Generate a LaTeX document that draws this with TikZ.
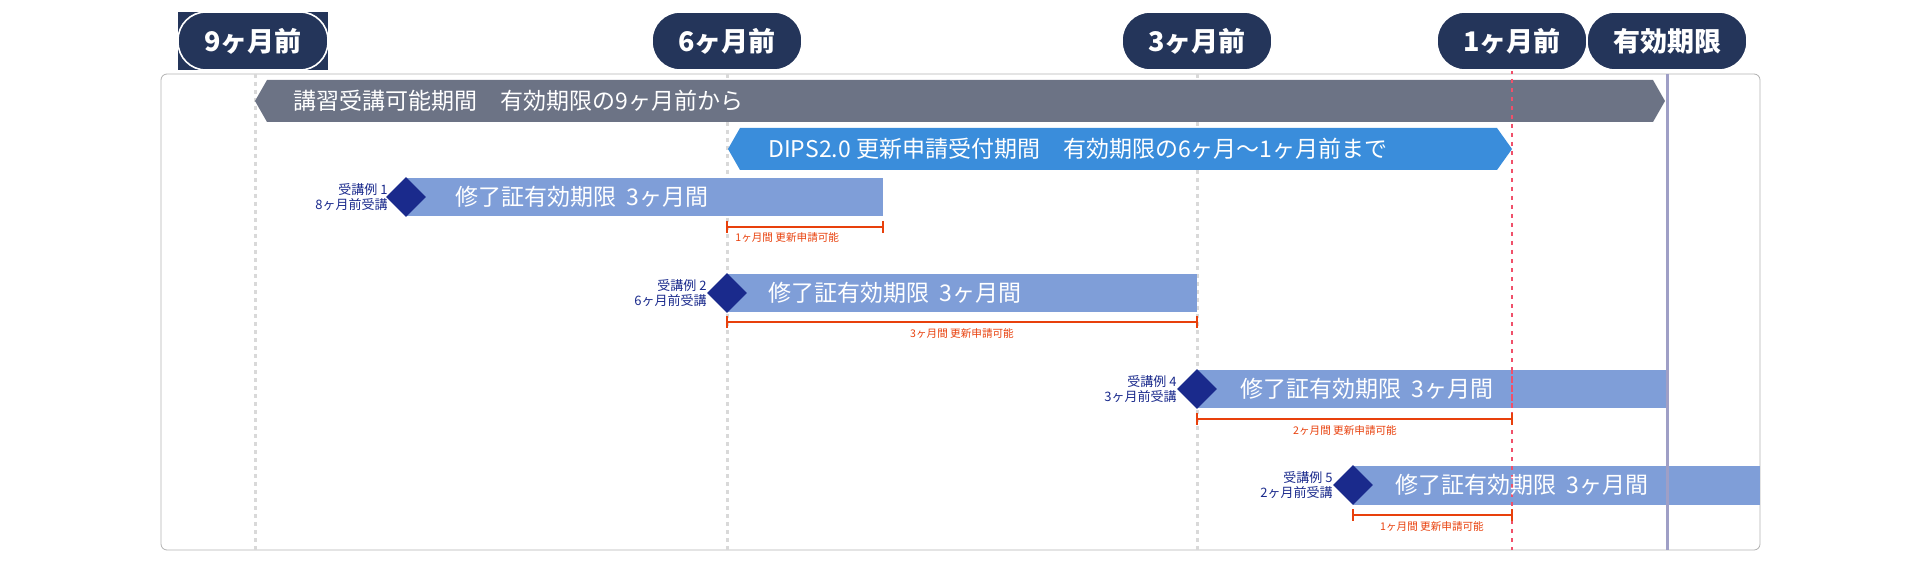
\documentclass[tikz,border=0pt]{standalone}
\usepackage{fontspec}
\setmainfont{Noto Sans CJK JP}
\usetikzlibrary{shapes.geometric}
\definecolor{pill}{HTML}{24355A}
\definecolor{gbar}{HTML}{6C7385}
\definecolor{bbar}{HTML}{3A8DDB}
\definecolor{lbar}{HTML}{7F9ED8}
\definecolor{dia}{HTML}{1A2A8C}
\definecolor{rd}{HTML}{E8400C}
\definecolor{rdot}{HTML}{F0506A}
\begin{document}
\begin{tikzpicture}[x=0.5pt,y=-0.5pt,
 pillst/.style={fill=pill,rounded corners=14pt,text=white,font=\bfseries\fontsize{13.5}{14}\selectfont},
 bartxt/.style={text=white,font=\fontsize{11.5}{12}\selectfont,anchor=west,inner sep=0},
 lbl/.style={text=dia,font=\fontsize{6.5}{7.5}\selectfont,align=right,anchor=east,inner sep=0},
 rlbl/.style={text=rd,font=\fontsize{5.3}{6}\selectfont,inner sep=0},
 brk/.style={draw=rd,line width=1.3pt},
 vgrid/.style={draw=gray!30,line width=1.5pt,dash pattern=on 2pt off 2pt}]
\useasboundingbox (0,0) rectangle (1920,561);
% frame
\draw[gray!60,rounded corners=3pt] (161,74) rectangle (1760,550);
% vertical lines
\foreach \x in {255,727,1197} \draw[vgrid] (\x,74) -- (\x,550);
% gray bar
\fill[gbar] (255,101) -- (267,80) -- (1653,80) -- (1665,101) -- (1653,122) -- (267,122) -- cycle;
\node[bartxt] (g) at (293,101) {講習受講可能期間　有効期限の9ヶ月前から};
% blue bar
\fill[bbar] (728,149) -- (740,128) -- (1497,128) -- (1512,149) -- (1497,170) -- (740,170) -- cycle;
\node[bartxt] (b) at (768,149) {DIPS2.0 更新申請受付期間　有効期限の6ヶ月〜1ヶ月前まで};
% expiry line and 1m dotted
\draw[color=rdot,line width=1.3pt,dash pattern=on 2pt off 2.5pt] (1512,70) -- (1512,550);
% example bars
\fill[lbar] (406,178) rectangle (883,216);
\fill[lbar] (727,274) rectangle (1197,312);
\fill[lbar] (1197,370) rectangle (1667,408);
\fill[lbar] (1353,466) rectangle (1760,505);
\draw[color=rdot,line width=1.3pt,dash pattern=on 2pt off 2.5pt] (1512,370) -- (1512,408) (1512,466) -- (1512,505);
\draw[color=rdot,line width=1.3pt,dash pattern=on 2pt off 2.5pt] (1512,70) -- (1512,550);
\draw[color=gray!75!blue!60,line width=1.5pt] (1667,74) -- (1667,550);
\node[bartxt] (t1) at (455,197) {修了証有効期限\ \ 3ヶ月間};
\node[bartxt] (t2) at (768,293) {修了証有効期限\ \ 3ヶ月間};
\node[bartxt] (t4) at (1240,389) {修了証有効期限\ \ 3ヶ月間};
\node[bartxt] (t5) at (1395,485) {修了証有効期限\ \ 3ヶ月間};
% diamonds
\foreach \n/\x/\y in {d1/406/197,d2/727/293,d4/1197/389,d5/1353/485}
  \node[diamond,fill=dia,minimum width=20pt,minimum height=20pt,inner sep=0] (\n) at (\x,\y) {};
\node[lbl] (l1) at (388,197) {受講例 1\\8ヶ月前受講};
\node[lbl] (l2) at (707,293) {受講例 2\\6ヶ月前受講};
\node[lbl] (l4) at (1177,389) {受講例 4\\3ヶ月前受講};
\node[lbl] (l5) at (1333,485) {受講例 5\\2ヶ月前受講};
% brackets
\draw[brk] (727,221) -- (727,233) (727,227) -- (883,227) (883,221) -- (883,233);
\node[rlbl,anchor=west] (r1) at (735,237) {1ヶ月間 更新申請可能};
\draw[brk] (727,316) -- (727,328) (727,322) -- (1197,322) (1197,316) -- (1197,328);
\node[rlbl] (r2) at (962,333) {3ヶ月間 更新申請可能};
\draw[brk] (1197,413) -- (1197,425) (1197,419) -- (1512,419) (1512,413) -- (1512,425);
\node[rlbl] (r4) at (1345,430) {2ヶ月間 更新申請可能};
\draw[brk] (1353,509) -- (1353,521) (1353,515) -- (1512,515) (1512,509) -- (1512,521);
\node[rlbl] (r5) at (1432,526) {1ヶ月間 更新申請可能};
% pills
\fill[pill] (178,12) rectangle (328,70);
\foreach \n/\x/\w/\t in {p9/253/150/9ヶ月前,p6/727/150/6ヶ月前,p3/1197/150/3ヶ月前,p1/1512/150/1ヶ月前,pe/1667/160/有効期限}
  \node[pillst,minimum width=\w*0.5pt,minimum height=29pt,draw=white,line width=0.8pt] (\n) at (\x,41) {\t};
\end{tikzpicture}
\end{document}
